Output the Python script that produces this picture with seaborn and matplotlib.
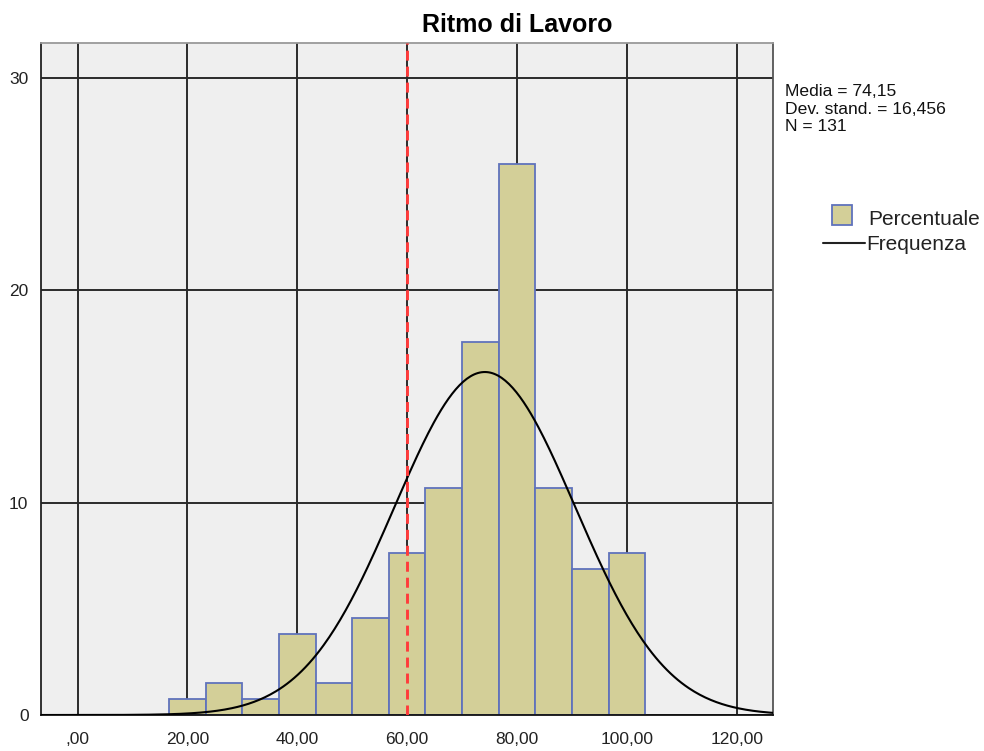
import numpy as np
import pandas as pd
import matplotlib
matplotlib.use("Agg")
import matplotlib.pyplot as plt
import seaborn as sns
from matplotlib.patches import Rectangle
from matplotlib.lines import Line2D

# Histogram of "Ritmo di Lavoro" (scores), N = 131
bin_edges = [16.67, 23.33, 30.00, 36.67, 43.33, 50.00, 56.67,
             63.33, 70.00, 76.67, 83.33, 90.00, 96.67, 103.33]
frequenze = [1, 2, 1, 5, 2, 6, 10, 14, 23, 34, 14, 9, 10]
n_tot = 131
media = 74.15
dev_std = 16.456
soglia = 60.0

x_ticks = [0, 20, 40, 60, 80, 100, 120]
x_tick_labels = [",00", "20,00", "40,00", "60,00", "80,00", "100,00", "120,00"]
y_ticks = [0, 10, 20, 30]

centri = [(a + b) / 2 for a, b in zip(bin_edges[:-1], bin_edges[1:])]
percentuale = [100.0 * f / n_tot for f in frequenze]
df = pd.DataFrame({"centro": centri, "percentuale": percentuale})

W, H, DPI = 984, 751, 100
sns.set_style("white")
plt.rcParams["font.family"] = ["Liberation Sans", "DejaVu Sans"]
plt.rcParams["lines.scale_dashes"] = False

fig = plt.figure(figsize=(W / DPI, H / DPI), dpi=DPI)
ax = fig.add_axes([41 / W, 1 - 715 / H, (773.3 - 41) / W, (715 - 43.3) / H])
ax.set_facecolor("#EFEFEF")

bar_face = "#D3CF98"
bar_edge = "#5F72BC"

sns.histplot(data=df, x="centro", weights="percentuale", bins=bin_edges,
             color=bar_face, edgecolor=bar_edge, linewidth=1.3, alpha=1.0,
             ax=ax, zorder=2)
for p in ax.patches:
    p.set_facecolor(bar_face)
    p.set_alpha(1.0)

# fitted normal curve, scaled to the percentage axis
x_min, x_max = -6.67, 126.67
larghezza = bin_edges[1] - bin_edges[0]
xs = np.linspace(x_min, x_max, 400)
ys = 100.0 * larghezza / (dev_std * np.sqrt(2 * np.pi)) * np.exp(-0.5 * ((xs - media) / dev_std) ** 2)
sns.lineplot(x=xs, y=ys, color="black", linewidth=1.5, ax=ax, zorder=4)

# reference threshold
ax.axvline(soglia, color="#FF3B3B", linewidth=2.1, dashes=(7.2, 4.3), zorder=5)

ax.set_xlim(x_min, x_max)
ax.set_ylim(0, 31.62)
ax.set_xticks(x_ticks)
ax.set_xticklabels(x_tick_labels)
ax.set_yticks(y_ticks)
ax.set_xlabel("")
ax.set_ylabel("")
ax.set_axisbelow(True)
ax.grid(True, color="#2A2A2A", linewidth=1.4)
ax.tick_params(axis="both", direction="out", length=8, width=1.2, color="#222222",
               labelsize=12.5, labelcolor="#222222", pad=1)
ax.tick_params(axis="x", pad=4)
for side, col in [("left", "#222222"), ("bottom", "#111111"),
                  ("top", "#999999"), ("right", "#555555")]:
    ax.spines[side].set_visible(True)
    ax.spines[side].set_color(col)
    ax.spines[side].set_linewidth(1.3)

# title
fig.text(517 / W, 1 - 32 / H, "Ritmo di Lavoro", ha="center", va="baseline",
         fontsize=18, fontweight="bold", color="black")

# summary statistics
stat_lines = ["Media = 74,15", "Dev. stand. = 16,456", "N = 131"]
for testo, base in zip(stat_lines, [96, 113.5, 131]):
    fig.text(785 / W, 1 - base / H, testo, ha="left", va="baseline",
             fontsize=12.6, color="#111111")

# legend
fig.add_artist(Rectangle((832 / W, 1 - 225 / H), 20 / W, 20 / H,
                         transform=fig.transFigure, facecolor=bar_face,
                         edgecolor=bar_edge, linewidth=1.3))
fig.text(868 / W, 1 - 225 / H, "Percentuale", ha="left", va="baseline",
         fontsize=15, color="#222222")
fig.add_artist(Line2D([823 / W, 865 / W], [1 - 243 / H, 1 - 243 / H],
                      transform=fig.transFigure, color="#222222", linewidth=1.5))
fig.text(866 / W, 1 - 250 / H, "Frequenza", ha="left", va="baseline",
         fontsize=15, color="#222222")

fig.savefig("out.png", dpi=DPI)
